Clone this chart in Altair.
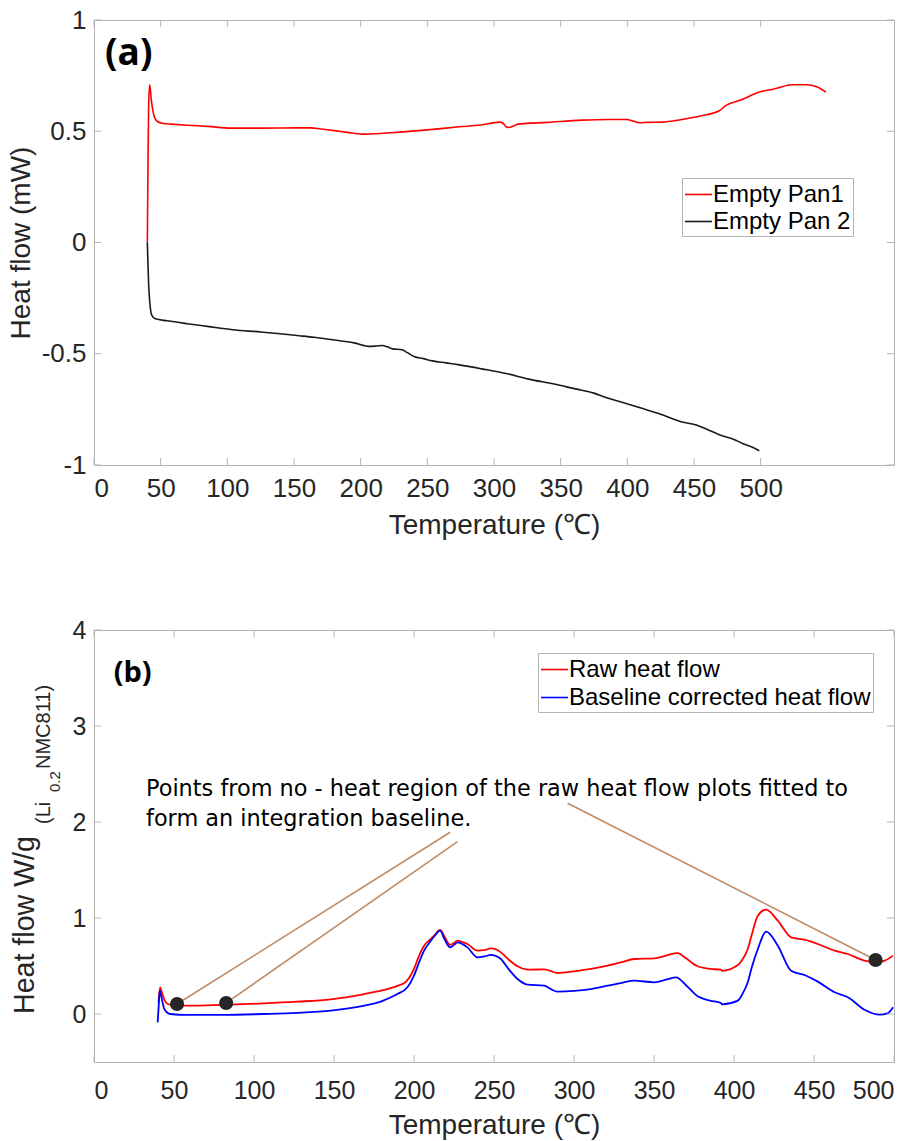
import altair as alt
import pandas as pd

# ---------- panel (a): empty-pan DSC runs ----------
pan1_t = [40, 40.5, 41, 41.8, 43, 45, 47.5, 52, 58, 70, 85, 103, 125, 153, 163,
          170, 180, 190, 201, 215, 229, 250, 274, 290, 304, 307, 309, 311, 314,
          318, 340, 366, 385, 399, 405, 409, 415, 426, 440, 449, 460, 469, 474,
          485, 499, 510, 524, 534, 542, 549]
pan1_hf = [0.0, 0.35, 0.62, 0.709, 0.64, 0.57, 0.544, 0.535, 0.532, 0.527, 0.522,
           0.514, 0.514, 0.515, 0.515, 0.51, 0.503, 0.495, 0.487, 0.49, 0.496,
           0.506, 0.52, 0.528, 0.541, 0.535, 0.52, 0.517, 0.522, 0.532, 0.54,
           0.55, 0.553, 0.553, 0.545, 0.538, 0.54, 0.541, 0.552, 0.562, 0.575,
           0.592, 0.616, 0.64, 0.676, 0.69, 0.709, 0.709, 0.7, 0.676]

pan2_t = [40, 40.5, 41, 41.8, 43.2, 46, 55, 70, 85, 104, 125, 154, 165, 179, 195,
          207, 212, 216, 220, 224, 231, 235, 240, 247, 254, 264, 274, 291, 310,
          326, 345, 361, 375, 384, 396, 409, 425, 441, 451, 460, 469, 480, 486,
          493, 499]
pan2_hf = [0.0, -0.1, -0.19, -0.265, -0.325, -0.343, -0.352, -0.365, -0.377,
           -0.392, -0.402, -0.419, -0.426, -0.437, -0.451, -0.467, -0.465, -0.463,
           -0.469, -0.478, -0.482, -0.495, -0.512, -0.522, -0.532, -0.541, -0.55,
           -0.568, -0.59, -0.614, -0.636, -0.658, -0.677, -0.697, -0.718, -0.742,
           -0.772, -0.807, -0.819, -0.84, -0.864, -0.885, -0.902, -0.918, -0.936]

# ---------- panel (b): sample heat flow ----------
raw_t = [40.3, 41.3, 42.5, 44, 46, 50, 56, 70, 85, 106, 127, 148, 169, 180, 190,
         195, 200, 203, 206.3, 210.4, 213, 216.3, 219, 222.6, 225, 227.2, 230,
         233.4, 239.7, 244, 248, 251, 254.3, 259, 264.7, 270, 273, 281.4, 285,
         289.7, 300, 310.6, 321, 330, 337.7, 350.2, 358, 364.8, 370, 377.3, 385,
         391.9, 392.5, 402.4, 405, 408.6, 411, 414.9, 420.1, 427.4, 435.7, 444.1,
         452.4, 462.9, 471.2, 481.6, 489.9, 494.2, 499.4]
raw_hf = [0.12, 0.278, 0.22, 0.15, 0.104, 0.092, 0.087, 0.09, 0.097, 0.11, 0.128,
          0.153, 0.208, 0.245, 0.295, 0.337, 0.469, 0.6, 0.712, 0.78, 0.825,
          0.875, 0.81, 0.72, 0.74, 0.764, 0.75, 0.729, 0.66, 0.665, 0.684, 0.675,
          0.642, 0.57, 0.497, 0.465, 0.462, 0.465, 0.45, 0.427, 0.445, 0.469,
          0.503, 0.54, 0.573, 0.58, 0.61, 0.635, 0.58, 0.497, 0.47, 0.462, 0.45,
          0.51, 0.56, 0.677, 0.82, 1.024, 1.087, 0.972, 0.799, 0.774, 0.729,
          0.66, 0.625, 0.556, 0.538, 0.556, 0.608]

corr_t = [39.8, 40.5, 41.1, 42.5, 44, 47.7, 58, 80, 106, 127, 148, 169, 180,
          189.6, 195.9, 200, 203, 206.3, 210.4, 213, 216.3, 219, 222.6, 225,
          227.2, 230, 233.4, 239.7, 244, 248, 251, 254.3, 259, 264.7, 271, 281.4,
          285, 289.7, 300, 310.6, 321, 330, 337.7, 350.2, 358, 363.8, 370, 377.3,
          385, 391.9, 392.5, 402.4, 405, 408.6, 411, 414.9, 420.1, 427.4, 435.7,
          444.1, 452.4, 462.9, 471.2, 481.6, 491, 496.3, 499.4]
corr_hf = [-0.087, 0.1, 0.243, 0.15, 0.05, 0.0, -0.01, -0.01, 0.0, 0.012, 0.035,
           0.087, 0.135, 0.208, 0.278, 0.4, 0.53, 0.66, 0.76, 0.815, 0.868, 0.78,
           0.694, 0.72, 0.747, 0.73, 0.694, 0.59, 0.6, 0.615, 0.605, 0.573, 0.47,
           0.365, 0.306, 0.295, 0.265, 0.233, 0.24, 0.26, 0.295, 0.325, 0.347,
           0.33, 0.36, 0.382, 0.3, 0.184, 0.14, 0.115, 0.1, 0.139, 0.2, 0.33,
           0.48, 0.677, 0.858, 0.712, 0.451, 0.406, 0.337, 0.226, 0.174, 0.045,
           -0.007, 0.01, 0.07]

# baseline fit points and the ends of the leader lines from the note
fit_t = [51.9, 82.6, 488.5]
fit_hf = [0.104, 0.115, 0.5625]
leader_t = [222.6, 227.2, 296.0]
leader_hf = [1.893, 1.795, 2.195]

note_lines = ["Points from no - heat region of the raw heat flow plots fitted to",
              "form an integration baseline."]
note_t = 32.5
note_hf = 2.268

# axis tick values
xticks = [0, 50, 100, 150, 200, 250, 300, 350, 400, 450, 500]
yticks_a = [-1, -0.5, 0, 0.5, 1]
yticks_b = [0, 1, 2, 3, 4]

series_a = ["Empty Pan1", "Empty Pan 2"]
series_b = ["Raw heat flow", "Baseline corrected heat flow"]

FRAME = "#b4b4b4"
INK = "#262626"
SANS = "Liberation Sans"
TAG_FONT = "Open Sans"
NOTE_FONT = "DejaVu Sans"
TICK = 7

W_A, H_A = 800, 445
W_B, H_B = 800, 432


def legend(x, y, row_pad):
    return alt.Legend(title=None, orient="none", legendX=x, legendY=y,
                      symbolType="stroke", symbolSize=729, symbolStrokeWidth=1.6,
                      labelFontSize=24, labelOffset=0, rowPadding=row_pad, padding=2,
                      labelLimit=0, strokeColor=FRAME, fillColor="white",
                      labelFont=SANS, labelColor="#000000")


def inner_ticks(w, h, xenc, yenc, xvals, yvals):
    # MATLAB-style ticks pointing into the plot box on all four sides
    tx = pd.DataFrame({"t": xvals})
    ty = pd.DataFrame({"hf": yvals})
    rule = dict(color=FRAME, strokeWidth=1)
    bottom = alt.Chart(tx).mark_rule(**rule).encode(
        x=xenc, y=alt.value(h), y2=alt.value(h - TICK))
    top = alt.Chart(tx).mark_rule(**rule).encode(
        x=xenc, y=alt.value(0), y2=alt.value(TICK))
    left = alt.Chart(ty).mark_rule(**rule).encode(
        y=yenc, x=alt.value(0), x2=alt.value(TICK))
    right = alt.Chart(ty).mark_rule(**rule).encode(
        y=yenc, x=alt.value(w), x2=alt.value(w - TICK))
    return [bottom, top, left, right]


# ---------- panel (a) ----------
x_a = alt.X("t:Q", scale=alt.Scale(domain=[0, 600], nice=False, zero=False),
            axis=alt.Axis(values=xticks, title="Temperature (℃)", domain=False,
                          ticks=False, grid=False, labelFontSize=26,
                          labelPadding=10, titlePadding=10, titleFontSize=28))
y_a = alt.Y("hf:Q", scale=alt.Scale(domain=[-1, 1], nice=False, zero=False),
            axis=alt.Axis(values=yticks_a, title="Heat flow (mW)", domain=False,
                          ticks=False, grid=False, labelFontSize=26,
                          labelPadding=8, titlePadding=6, titleFontSize=28,
                          labelExpr="datum.value + ''"))

df_a = pd.concat([
    pd.DataFrame({"t": pan1_t, "hf": pan1_hf, "run": series_a[0], "o": range(len(pan1_t))}),
    pd.DataFrame({"t": pan2_t, "hf": pan2_hf, "run": series_a[1], "o": range(len(pan2_t))}),
])

lines_a = alt.Chart(df_a).mark_line(strokeWidth=1.6, interpolate="monotone").encode(
    x=x_a, y=y_a,
    color=alt.Color("run:N", scale=alt.Scale(domain=series_a, range=["#ff0000", "#1a1a1a"]),
                    legend=legend(588, 158, 0)),
    order="o:Q",
)

tag_a = alt.Chart(pd.DataFrame({"t": [8.25], "hf": [0.845], "s": ["(a)"]})).mark_text(
    font=TAG_FONT, fontWeight="bold", fontSize=37, align="left", baseline="middle",
    color="#000000").encode(x=x_a, y=y_a, text="s:N")

panel_a = alt.layer(lines_a, tag_a, *inner_ticks(W_A, H_A, x_a, y_a, xticks, yticks_a)).properties(
    width=W_A, height=H_A)

# ---------- panel (b) ----------
x_b = alt.X("t:Q", scale=alt.Scale(domain=[0, 500], nice=False, zero=False),
            axis=alt.Axis(values=xticks, title="Temperature (℃)", domain=False,
                          ticks=False, grid=False, labelFontSize=25,
                          labelPadding=16, titlePadding=8, titleFontSize=28))
y_b = alt.Y("hf:Q", scale=alt.Scale(domain=[-0.5, 4], nice=False, zero=False),
            axis=alt.Axis(values=yticks_b, title=None, domain=False, ticks=False,
                          grid=False, labelFontSize=25, labelPadding=8))

df_b = pd.concat([
    pd.DataFrame({"t": raw_t, "hf": raw_hf, "run": series_b[0], "o": range(len(raw_t))}),
    pd.DataFrame({"t": corr_t, "hf": corr_hf, "run": series_b[1], "o": range(len(corr_t))}),
])

lines_b = alt.Chart(df_b).mark_line(strokeWidth=1.8, interpolate="monotone").encode(
    x=x_b, y=y_b,
    color=alt.Color("run:N", scale=alt.Scale(domain=series_b, range=["#ff0000", "#0000ff"]),
                    legend=legend(444, 23, 1)),
    order="o:Q",
)

leaders = alt.Chart(pd.DataFrame({"t": fit_t, "hf": fit_hf, "t2": leader_t, "hf2": leader_hf})).mark_rule(
    color="#c08a62", strokeWidth=1.6).encode(x=x_b, y=y_b, x2="t2:Q", y2="hf2:Q")

dots = alt.Chart(pd.DataFrame({"t": fit_t, "hf": fit_hf})).mark_circle(
    size=200, opacity=1, color="#262626").encode(x=x_b, y=y_b)

note = alt.Chart(pd.DataFrame({"t": [note_t], "hf": [note_hf], "s": ["\n".join(note_lines)]})).mark_text(
    font=NOTE_FONT, fontSize=22.4, align="left", baseline="alphabetic", lineBreak="\n",
    lineHeight=29.5, color="#000000").encode(x=x_b, y=y_b, text="s:N")

tag_b = alt.Chart(pd.DataFrame({"t": [12.3], "hf": [3.557], "s": ["(b)"]})).mark_text(
    font=TAG_FONT, fontWeight="bold", fontSize=29, align="left", baseline="middle",
    color="#000000").encode(x=x_b, y=y_b, text="s:N")

# y-axis title with nested subscripts: W/g_(Li_0.2 NMC811)
ytitle_parts = ["Heat flow W/g", "(Li", "0.2", "NMC811)"]
ytitle_sizes = [28.6, 20, 15, 20]
ytitle_x = [-60, -44, -34, -44]
ytitle_y = [384, 194, 162, 139]
ytitle = [
    alt.Chart(pd.DataFrame({"s": [s]})).mark_text(
        font=SANS, fontSize=fs, angle=270, align="left", baseline="alphabetic",
        color=INK).encode(x=alt.value(px), y=alt.value(py), text="s:N")
    for s, fs, px, py in zip(ytitle_parts, ytitle_sizes, ytitle_x, ytitle_y)
]

panel_b = alt.layer(lines_b, leaders, dots, note, tag_b, *ytitle,
                    *inner_ticks(W_B, H_B, x_b, y_b, xticks, yticks_b)).properties(
    width=W_B, height=H_B)

chart = alt.vconcat(panel_a, panel_b, spacing=77).resolve_scale(
    color="independent").configure_view(stroke=FRAME, strokeWidth=1).configure_axis(
    labelFont=SANS, titleFont=SANS, labelColor=INK, titleColor=INK,
    titleFontWeight="normal").properties(
    padding={"left": 6, "top": 6, "right": 5, "bottom": 5},
    background="white")

chart.save("out.html", embed_options={"renderer": "svg", "actions": False})
